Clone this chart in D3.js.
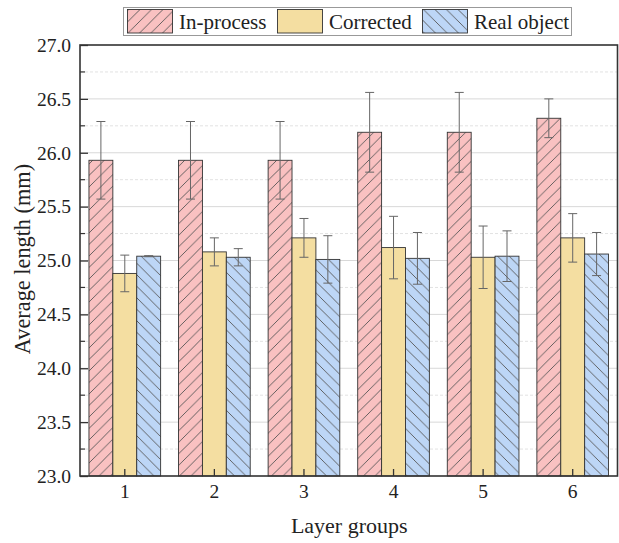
<!DOCTYPE html>
<html><head><meta charset="utf-8">
<script src="https://cdn.jsdelivr.net/npm/d3@7"></script>
<style>body{margin:0;background:#fff}svg{display:block}text{font-family:"Liberation Serif","Times New Roman",serif;fill:#222}</style>
</head><body><svg id="c" width="619" height="543"></svg>
<script>
const categories = ["1","2","3","4","5","6"];
const seriesNames = ["In-process","Corrected","Real object"];
const inProcess = [25.93,25.93,25.93,26.19,26.19,26.32];
const inProcessErr = [0.36,0.36,0.36,0.37,0.37,0.18];
const corrected = [24.88,25.08,25.21,25.12,25.03,25.21];
const correctedErr = [0.17,0.13,0.18,0.29,0.29,0.225];
const realObject = [25.04,25.03,25.01,25.02,25.04,25.06];
const realObjectErr = [0.005,0.08,0.22,0.24,0.235,0.2];
const yTicks = [23.0,23.5,24.0,24.5,25.0,25.5,26.0,26.5,27.0];
const yMinor = [23.25,23.75,24.25,24.75,25.25,25.75,26.25,26.75];

const fills = ["#F9C1C1","#F4DEA1","#BDD6F6"];
const hatch = ["fwd",null,"back"];
const series = [
  {name:seriesNames[0], v:inProcess, e:inProcessErr},
  {name:seriesNames[1], v:corrected, e:correctedErr},
  {name:seriesNames[2], v:realObject, e:realObjectErr}
];

const svg = d3.select("#c");
const L=80, R=617.5, T=45, B=476;
const x = d3.scaleBand().domain(categories).range([L,R]).paddingInner(0.2).paddingOuter(0.1);
const xs = d3.scaleBand().domain(d3.range(3)).range([0,x.bandwidth()]);
const y = d3.scaleLinear().domain([23,27]).range([B,T]);

const defs = svg.append("defs");
function mkPat(id, color, dir){
  const s=11.5;
  const p = defs.append("pattern").attr("id",id).attr("patternUnits","userSpaceOnUse")
    .attr("width",s).attr("height",s);
  p.append("rect").attr("width",s).attr("height",s).attr("fill",color);
  const d = dir==="fwd"
    ? `M0,${s} L${s},0 M${-s/2},${s/2} L${s/2},${-s/2} M${s/2},${s*1.5} L${s*1.5},${s/2}`
    : `M0,0 L${s},${s} M${-s/2},${s/2} L${s/2},${s*1.5} M${s/2},${-s/2} L${s*1.5},${s/2}`;
  p.append("path").attr("d",d).attr("stroke","#555").attr("stroke-width",0.9);
}
mkPat("p0",fills[0],"fwd");
mkPat("p2",fills[2],"back");
const fillOf = i => hatch[i] ? `url(#p${i})` : fills[i];

// grid
svg.append("g").selectAll("line").data(yMinor).join("line")
  .attr("x1",L).attr("x2",R).attr("y1",d=>y(d)).attr("y2",d=>y(d))
  .attr("stroke","#e2e2e2").attr("stroke-dasharray","3,2").attr("stroke-width",1);
svg.append("g").selectAll("line").data(yTicks.slice(1,-1)).join("line")
  .attr("x1",L).attr("x2",R).attr("y1",d=>y(d)).attr("y2",d=>y(d))
  .attr("stroke","#d8d8d8").attr("stroke-width",1);

// bars
series.forEach((s,i)=>{
  svg.append("g").selectAll("rect").data(categories).join("rect")
    .attr("x",(c)=>x(c)+xs(i)).attr("width",xs.bandwidth())
    .attr("y",(c,j)=>y(s.v[j])).attr("height",(c,j)=>y(23)-y(s.v[j]))
    .attr("fill",fillOf(i)).attr("stroke","#333").attr("stroke-width",0.9);
});
// error bars
series.forEach((s,i)=>{
  const g = svg.append("g").attr("stroke","#666").attr("stroke-width",1).attr("fill","none");
  categories.forEach((c,j)=>{
    const cx = x(c)+xs(i)+xs.bandwidth()/2;
    const y1=y(s.v[j]+s.e[j]), y2=y(s.v[j]-s.e[j]);
    g.append("path").attr("d",`M${cx},${y1}V${y2}M${cx-4.5},${y1}H${cx+4.5}M${cx-4.5},${y2}H${cx+4.5}`);
  });
});

// axes
const yAx = svg.append("g").attr("transform",`translate(${L},0)`)
  .call(d3.axisLeft(y).tickValues(yTicks).tickFormat(d3.format(".1f")).tickSizeInner(-8).tickSizeOuter(0).tickPadding(9));
yAx.select(".domain").remove();
yAx.selectAll("line").attr("stroke","#333").attr("stroke-width",1.3);
yAx.selectAll("text").attr("font-size","19.5px").attr("fill","#222");
svg.append("g").selectAll("line").data(yMinor).join("line")
  .attr("x1",L).attr("x2",L+5).attr("y1",d=>y(d)).attr("y2",d=>y(d)).attr("stroke","#333").attr("stroke-width",1.2);

const xAx = svg.append("g").attr("transform",`translate(0,${B})`)
  .call(d3.axisBottom(x).tickSizeInner(-7).tickSizeOuter(0).tickPadding(8));
xAx.select(".domain").remove();
xAx.selectAll("line").attr("stroke","#333").attr("stroke-width",1.3);
xAx.selectAll("text").attr("font-size","19.5px").attr("fill","#222");

// frame
svg.append("rect").attr("x",L).attr("y",T).attr("width",R-L).attr("height",B-T)
  .attr("fill","none").attr("stroke","#333").attr("stroke-width",1.6);

// titles
svg.append("text").attr("x",(L+R)/2+0.5).attr("y",533).attr("text-anchor","middle")
  .attr("font-size","22px").text("Layer groups");
svg.append("text").attr("transform",`translate(30,259) rotate(-90)`).attr("text-anchor","middle")
  .attr("font-size","22.3px").text("Average length (mm)");

// legend
const lg = svg.append("g");
lg.append("rect").attr("x",123.5).attr("y",7.5).attr("width",448).attr("height",28)
  .attr("fill","#fff").attr("stroke","#999").attr("stroke-width",1);
const legX = [127.5,277.5,422.5];
series.forEach((s,i)=>{
  lg.append("rect").attr("x",legX[i]).attr("y",9.5).attr("width",45).attr("height",23.5)
    .attr("fill",fillOf(i)).attr("stroke","#333").attr("stroke-width",0.9);
  lg.append("text").attr("x",legX[i]+51.5).attr("y",29).attr("font-size","21px").text(s.name);
});
</script></body></html>
